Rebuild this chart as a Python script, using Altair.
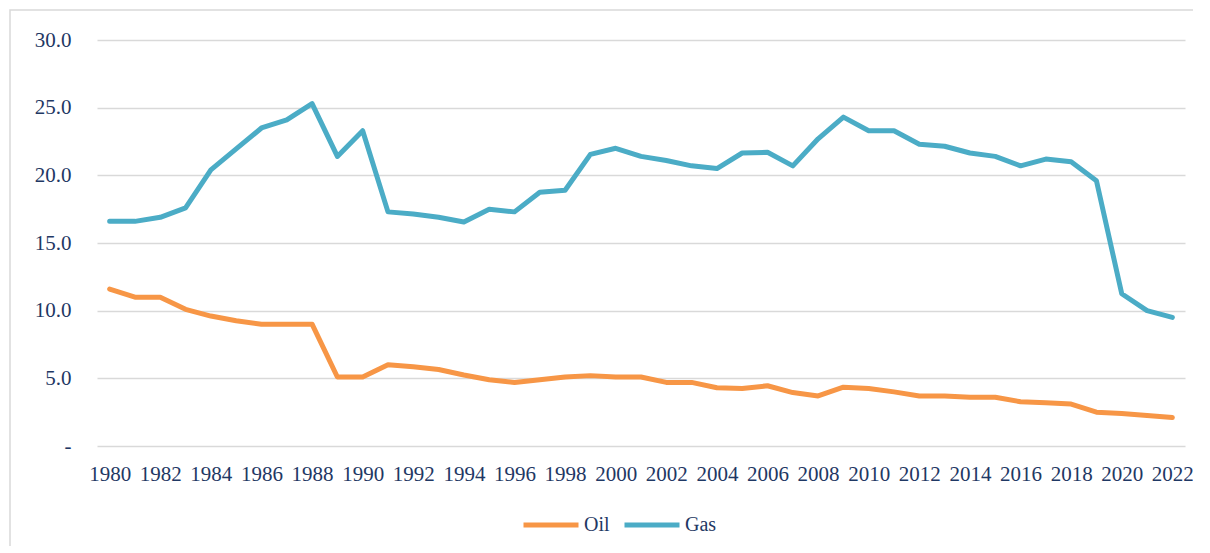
import altair as alt
import pandas as pd

years = list(range(1980, 2023))
oil = [11.6, 11.0, 11.0, 10.1, 9.6, 9.25, 9.0, 9.0, 9.0, 5.1,
       5.1, 6.0, 5.85, 5.65, 5.25, 4.9, 4.7, 4.9, 5.1, 5.2,
       5.1, 5.1, 4.7, 4.7, 4.3, 4.25, 4.45, 3.95, 3.7, 4.35,
       4.25, 4.0, 3.7, 3.7, 3.6, 3.6, 3.27, 3.2, 3.1, 2.5,
       2.4, 2.25, 2.1]
gas = [16.6, 16.6, 16.9, 17.6, 20.4, 21.95, 23.5, 24.1, 25.3, 21.4,
       23.3, 17.3, 17.15, 16.9, 16.55, 17.5, 17.3, 18.75, 18.9, 21.55,
       22.0, 21.4, 21.1, 20.7, 20.5, 21.65, 21.7, 20.7, 22.7, 24.3,
       23.3, 23.3, 22.3, 22.15, 21.65, 21.4, 20.7, 21.2, 21.0, 19.6,
       11.25, 10.0, 9.5]
series = ["Oil", "Gas"]
colors = ["#F79646", "#4BACC6"]
label_years = [y for y in years if y % 2 == 0]

rows = []
for y, o, g in zip(years, oil, gas):
    rows.append({"Year": y, "Series": "Oil", "Value": o})
    rows.append({"Year": y, "Series": "Gas", "Value": g})
df = pd.DataFrame(rows)

W, H = 1088, 406
FONT = "Liberation Serif"
TXT = "#1F3864"

lines = alt.Chart(df).mark_line(strokeWidth=5, strokeJoin="round", strokeCap="round").encode(
    x=alt.X("Year:O", title=None,
            scale=alt.Scale(type="point", padding=0.5),
            axis=alt.Axis(values=label_years, labelAngle=0, domain=False, ticks=False,
                          grid=False, labelPadding=17, labelFontSize=21, labelFont=FONT,
                          labelColor=TXT)),
    y=alt.Y("Value:Q", title=None,
            scale=alt.Scale(domain=[0, 30], nice=False),
            axis=alt.Axis(values=[0, 5, 10, 15, 20, 25, 30], domain=False, ticks=False,
                          labelExpr="datum.value == 0 ? '-' : format(datum.value, '.1f')",
                          labelPadding=26, labelFontSize=21, labelFont=FONT, labelColor=TXT,
                          gridColor="#D9D9D9", gridWidth=1.5)),
    color=alt.Color("Series:N", scale=alt.Scale(domain=series, range=colors),
                    legend=alt.Legend(title=None, orient="none", legendX=424, legendY=455,
                                      direction="horizontal", symbolType="stroke",
                                      symbolSize=3025, symbolStrokeWidth=5,
                                      labelFont=FONT, labelFontSize=20, labelColor=TXT,
                                      labelOffset=3, columnPadding=4, symbolOffset=0)),
)

frame_df = pd.DataFrame({"k": [0]})
frame = alt.Chart(frame_df).mark_rect(fill="transparent", stroke="#D9D9D9", strokeWidth=1.5).encode(
    x=alt.value(-87), x2=alt.value(W + 300), y=alt.value(-30), y2=alt.value(H + 300))

chart = (
    alt.layer(frame, lines)
    .properties(
        width=W, height=H,
        autosize=alt.AutoSizeParams(type="none"),
        padding={"left": 89, "top": 32, "right": 8, "bottom": 100},
    )
    .configure_view(stroke=None)
    .configure_axisX(grid=False, domain=False)
    .configure_axisY(domain=False)
)

chart.save("out.html", embed_options={"renderer": "svg", "actions": False})
